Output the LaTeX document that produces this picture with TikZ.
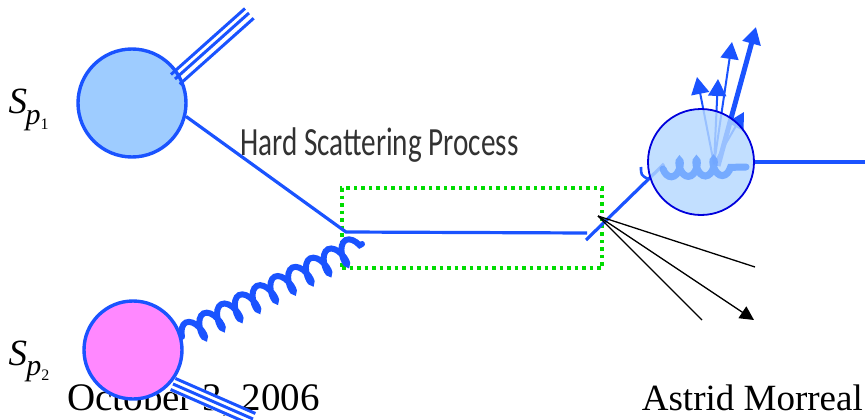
\documentclass[tikz,border=0pt]{standalone}
\usepackage{fontspec}
\setmainfont{Liberation Serif}
\newfontfamily\handfont{Carlito}
\usepackage{xcolor}
\usetikzlibrary{arrows.meta,decorations.pathmorphing,calc}

\definecolor{qblue}{RGB}{26,83,255}
\definecolor{protonA}{RGB}{158,204,255}
\definecolor{protonB}{RGB}{255,136,255}
\definecolor{jetfill}{RGB}{180,216,255}
\definecolor{jetedge}{RGB}{0,0,220}
\definecolor{jetcoil}{RGB}{110,165,255}
\definecolor{boxgreen}{RGB}{0,220,0}
\definecolor{handgray}{RGB}{50,50,50}

\newcommand{\pdflabel}[1]{{\itshape p}{\fontsize{16}{16}\selectfont\raisebox{-5pt}{#1}}}

\begin{document}
\begin{tikzpicture}[x=1pt,y=-1pt,
    proton/.style={circle,draw=qblue,line width=3.4pt,minimum size=#1},
    quark/.style={qblue,line width=3.2pt},
    beam/.style={qblue,line width=3pt},
    gluon/.style={qblue,line width=6pt,line cap=round,decorate,
      decoration={coil,amplitude=11pt,segment length=20pt,aspect=0.45}},
    hadron/.style={qblue,line width=2pt,-{Triangle[length=17pt,width=18pt]}},
    fan/.style={black,line width=1.3pt},
    slabel/.style={font=\fontsize{37}{38}\selectfont\itshape},
    plabel/.style={font=\fontsize{30}{30}\selectfont}]
        \tikzstyle{every node}+=[inner sep=0pt]
        \useasboundingbox (0,0) rectangle (865,420);
        % footer
        \node[anchor=base west,font=\fontsize{39}{40}\selectfont] (date) at (67,410) {October 3, 2006};
        \node[anchor=base east,font=\fontsize{37}{40}\selectfont] (author) at (863,410) {Astrid Morreal};
        % hard scattering box
        \node[draw=boxgreen,line width=3.5pt,dash pattern=on 3.5pt off 4pt,
              minimum width=260pt,minimum height=80pt] (hardbox) at (472,228) {};
        \node[anchor=base west,text=handgray,xscale=0.73,transform shape,
              font=\handfont\fontsize{40}{40}\selectfont] (hsp) at (240,155) {Hard Scattering Process};
        % incoming protons
        \node[proton=108pt,fill=protonA] (pa) at (132,103) {};
        \node[proton=98pt,fill=protonB] (pb) at (133,350) {};
        \node[slabel] (sa) at (18,101) {S};
        \node[plabel] (sa1) at (37,121) {\pdflabel{1}};
        \node[slabel] (sb) at (18,353) {S};
        \node[plabel] (sb2) at (38,372) {\pdflabel{2}};
        % proton remnants
        \coordinate (ra) at (175,79);
        \coordinate (rb) at (173,384);
        \foreach \d in {-6,0,7}
          \draw[beam] ($(ra)+(0.67*\d,0.75*\d)$) -- ++(74,-66);
        \fill[white] ($(rb)+(2.4,-5.5)$) -- ++(80,35) -- ++(-5,13) -- ++(-80,-35) -- cycle;
        \foreach \d in {-6,0,6}
          \draw[beam] ($(rb)+(-0.4*\d,0.92*\d)$) -- ++(80,35);
        % partons into the hard process
        \coordinate (hv) at (346,232);
        \coordinate (qe) at (587,233);
        \coordinate (ge) at (362,244);
        \draw[quark] (pa.-14) -- (hv) -- (qe);
        \draw[gluon] (pb.15) -- (ge);
        % outgoing quark and hadrons
        \coordinate (qk) at (586,240);
        \coordinate (qj) at (664,164);
        \draw[quark] (qk) -- (qj);
        \draw[quark,line width=2.6pt] (641,167) .. controls (641,175) .. (648,179);
        \coordinate (hb) at (714,164);
        \draw[hadron] (hb) -- (697,77);
        \draw[hadron] (hb) -- (718,79);
        \draw[hadron] (hb) -- (732,42);
        \draw[hadron,line width=5pt,-{Triangle[length=17pt,width=18pt]}] (718,166) -- (756,27);
        \draw[hadron] (hb) -- (744,112);
        \node[circle,minimum size=106pt,fill=jetfill,fill opacity=0.82,draw=jetedge,line width=1.8pt] (jet) at (701,162) {};
        \draw[jetcoil,line width=7pt,line cap=round,opacity=0.9,decorate,
              decoration={coil,amplitude=8pt,segment length=17pt,aspect=0.5,mirror}] (663,169) -- (746,167);
        \coordinate (jout) at (865,162);
        \draw[quark,line width=3.6pt] (jet.east) -- (jout);
        % photon fan
        \coordinate (fo) at (598,216);
        \coordinate (fa) at (755,267);
        \coordinate (fb) at (754,320);
        \coordinate (fc) at (702,320);
        \draw[fan] (fo) -- (fa);
        \draw[fan,-{Triangle[length=14pt,width=14pt]}] (fo) -- (fb);
        \draw[fan] (fo) -- (fc);
        \end{tikzpicture}
\end{document}
